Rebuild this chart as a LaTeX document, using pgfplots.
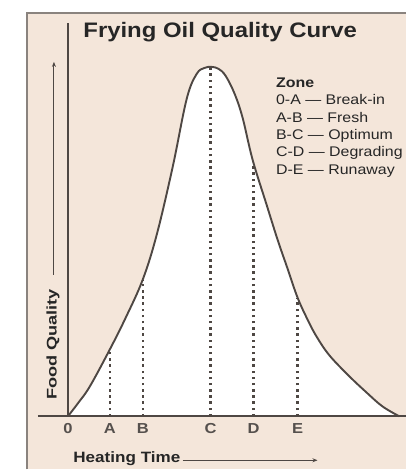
\documentclass[border=0pt]{standalone}
\usepackage{pgfplots}
\pgfplotsset{compat=1.18}
\usepackage{pgfplotstable}
\usetikzlibrary{arrows.meta}
\usepackage{fontspec}
\setmainfont{Liberation Sans}
\newfontfamily\wide[FakeStretch=1.14]{Liberation Sans}
\newfontfamily\ywide[FakeStretch=1.3]{Liberation Sans}
\definecolor{peach}{HTML}{F4E6DA}
\definecolor{ink}{HTML}{4E4743}
\definecolor{frame}{HTML}{8A837E}
\definecolor{txt}{HTML}{262626}
\definecolor{tick}{HTML}{55504D}

% Quality curve (x: heating time, y: food quality)
\pgfplotstableread{
x y
0 0
10 13
22 30
42 67
58 99
75 137
89 182
105 250
119 318
129 343
137 349
144 350
151 348
158 341
167 323
175 299
185 257
199 212
210 177
220 148
230 119
240 97
249 80
262 61
282 40
299 24
315 10
332 0
}\curve

\begin{document}
\begin{tikzpicture}
\begin{axis}[
  set layers=standard,
  x=1pt, y=1pt,
  xmin=-68, xmax=339, ymin=-53, ymax=417,
  axis line style={draw=none},
  tick style={draw=none},
  ytick=\empty,
  xtick={0,42,75,143,186,230},
  xticklabels={0,A,B,C,D,E},
  xticklabel style={anchor=mid, yshift=38pt, text=tick,
    font=\wide\bfseries\fontsize{14.5}{14.5}\selectfont},
  clip=false,
]
% background
\begin{pgfonlayer}{axis background}
\fill[white] (axis cs:-68,-53) rectangle (axis cs:339,417);
\fill[peach] (axis cs:-41,-53) rectangle (axis cs:339,404);
\draw[frame, line width=1.5pt] (axis cs:-41,-53) -- (axis cs:-41,404) -- (axis cs:339,404);
\end{pgfonlayer}

% white area under the curve
\addplot[draw=none, fill=white, smooth, tension=0.6] table[x=x,y=y] {\curve};

% zone markers
\addplot[ink, line width=2.5pt, dash pattern=on 2.5pt off 3.7pt] coordinates {(42,0) (42,67)};
\addplot[ink, line width=2.5pt, dash pattern=on 2.5pt off 3.7pt] coordinates {(75,0) (75,137)};
\addplot[ink, line width=2.5pt, dash pattern=on 2.5pt off 3.7pt] coordinates {(143,0) (143,350)};
\addplot[ink, line width=2.5pt, dash pattern=on 2.5pt off 3.7pt] coordinates {(186,0) (186,254)};
\addplot[ink, line width=2.5pt, dash pattern=on 2.5pt off 3.7pt] coordinates {(230,0) (230,119)};

% curve
\addplot[ink, line width=1.9pt, smooth, tension=0.6] table[x=x,y=y] {\curve};

% axes
\draw[ink, line width=1.9pt] (axis cs:-30,0) -- (axis cs:339,0);
\draw[ink, line width=1.9pt] (axis cs:0,0) -- (axis cs:0,394);

% title
\node[anchor=mid west, text=txt, font=\wide\bfseries\fontsize{21}{21}\selectfont]
  at (axis cs:12,382) {Frying Oil Quality Curve};

% zone legend
\node[anchor=mid west, text=txt, font=\wide\bfseries\fontsize{14}{14}\selectfont] at (axis cs:205,332) {Zone};
\node[anchor=mid west, text=txt, font=\wide\fontsize{14}{14}\selectfont] at (axis cs:205,314.6) {0-A — Break-in};
\node[anchor=mid west, text=txt, font=\wide\fontsize{14}{14}\selectfont] at (axis cs:205,297.2) {A-B — Fresh};
\node[anchor=mid west, text=txt, font=\wide\fontsize{14}{14}\selectfont] at (axis cs:205,279.8) {B-C — Optimum};
\node[anchor=mid west, text=txt, font=\wide\fontsize{14}{14}\selectfont] at (axis cs:205,262.4) {C-D — Degrading};
\node[anchor=mid west, text=txt, font=\wide\fontsize{14}{14}\selectfont] at (axis cs:205,245) {D-E — Runaway};

% axis titles
\node[rotate=90, anchor=mid, text=txt, font=\ywide\bfseries\fontsize{14}{14}\selectfont]
  at (axis cs:-14,72) {Food Quality};
\draw[ink, line width=1pt, -{Stealth[length=5pt,width=4pt]}] (axis cs:-14,142) -- (axis cs:-14,355);
\node[anchor=mid west, text=txt, font=\wide\bfseries\fontsize{15}{15}\selectfont]
  at (axis cs:2,-44) {Heating Time};
\draw[ink, line width=1pt, -{Stealth[length=5pt,width=4pt]}] (axis cs:115,-44) -- (axis cs:250,-44);
\end{axis}
\end{tikzpicture}
\end{document}
